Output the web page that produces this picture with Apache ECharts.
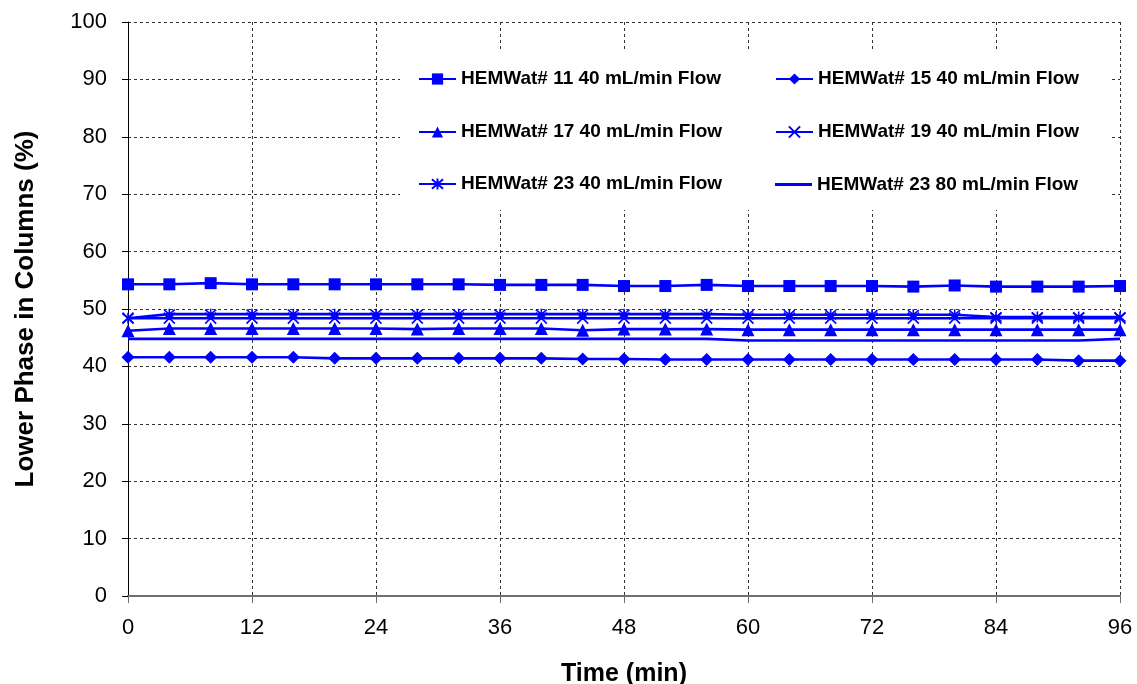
<!DOCTYPE html>
<html>
<head>
<meta charset="utf-8">
<script src="https://cdn.jsdelivr.net/npm/echarts@6/dist/echarts.min.js"></script>
<style>
html,body{margin:0;padding:0;background:#fff;}
#chart{width:1137px;height:684px;}
</style>
</head>
<body>
<div id="chart"></div>
<script>
const times = [0,4,8,12,16,20,24,28,32,36,40,44,48,52,56,60,64,68,72,76,80,84,88,92,96];
const hem11_40 = [54.3,54.3,54.5,54.3,54.3,54.3,54.3,54.3,54.3,54.2,54.2,54.2,54.0,54.0,54.2,54.0,54.0,54.0,54.0,53.9,54.1,53.9,53.9,53.9,54.0];
const hem15_40 = [41.6,41.6,41.6,41.6,41.6,41.4,41.4,41.4,41.4,41.4,41.4,41.3,41.3,41.2,41.2,41.2,41.2,41.2,41.2,41.2,41.2,41.2,41.2,41.0,41.0];
const hem17_40 = [46.2,46.6,46.6,46.6,46.6,46.6,46.6,46.5,46.6,46.6,46.6,46.3,46.5,46.5,46.5,46.4,46.4,46.4,46.4,46.4,46.4,46.4,46.4,46.4,46.4];
const hem19_40 = [48.4,48.4,48.4,48.4,48.4,48.4,48.4,48.4,48.4,48.4,48.4,48.4,48.4,48.4,48.4,48.4,48.4,48.4,48.4,48.4,48.4,48.4,48.4,48.4,48.4];
const hem23_40 = [48.4,49.1,49.1,49.1,49.1,49.1,49.1,49.1,49.1,49.1,49.1,49.1,49.1,49.1,49.1,49.0,49.0,49.0,49.0,49.0,49.0,48.6,48.6,48.6,48.6];
const hem23_80 = [44.8,44.8,44.8,44.8,44.8,44.8,44.8,44.8,44.8,44.8,44.8,44.8,44.8,44.8,44.8,44.5,44.5,44.5,44.5,44.5,44.5,44.5,44.5,44.5,44.8];
const seriesNames = ['HEMWat# 11 40 mL/min Flow','HEMWat# 15 40 mL/min Flow','HEMWat# 17 40 mL/min Flow','HEMWat# 19 40 mL/min Flow','HEMWat# 23 40 mL/min Flow','HEMWat# 23 80 mL/min Flow'];
const yTicks = [0,10,20,30,40,50,60,70,80,90,100];
const xTicks = [0,12,24,36,48,60,72,84,96];

const BLUE = '#0000ff';
const xPath = 'path://M0,0L10,10M10,0L0,10';
const starPath = 'path://M0,0L10,10M10,0L0,10M5,-1L5,11';

function pairs(vals){ return times.map((t,i)=>[t, vals[i]]); }

function mk(name, vals, symbol, size, stroke){
  return {
    name: name, type: 'line', data: pairs(vals),
    symbol: symbol, symbolSize: size, showSymbol: symbol !== 'none',
    lineStyle: {color: BLUE, width: 2.6},
    itemStyle: {color: stroke ? 'rgba(0,0,0,0)' : BLUE, borderColor: BLUE, borderWidth: stroke ? 1.6 : 0},
    emphasis: {disabled: true},
    animation: false, z: 3
  };
}

const FONT = 'Arial, "Liberation Sans", sans-serif';
const legendFont = {fontFamily: FONT, fontWeight: 'bold', fontSize: 19, color: '#000', lineHeight: 20};
const legendPos = [[418,69],[775,69],[418,122],[775,122],[418,174],[775,174]];
const legends = seriesNames.map((n,i)=>{
  const plain = (i === 5);
  return {
    data: plain ? [{name: n, icon: 'rect'}] : [n],
    left: legendPos[i][0], top: plain ? legendPos[i][1] + 1 : legendPos[i][1], padding: 0,
    itemWidth: 37, itemHeight: plain ? 3 : 14, itemGap: plain ? 6 : 5, selectedMode: false,
    textStyle: plain ? Object.assign({}, legendFont, {lineHeight: 18}) : legendFont, z: 6
  };
});

const chart = echarts.init(document.getElementById('chart'), null, {renderer: 'canvas'});
chart.setOption({
  backgroundColor: '#fff',
  animation: false,
  grid: {left: 128, right: 17, top: 22, bottom: 88, containLabel: false, outerBoundsMode: 'none'},
  graphic: [{type: 'rect', shape: {x: 400, y: 51, width: 710, height: 159}, style: {fill: '#fff'}, z: 1, silent: true}],
  legend: legends,
  xAxis: {
    type: 'value', min: 0, max: 96, interval: 12,
    name: 'Time (min)', nameLocation: 'middle', nameGap: 66,
    nameTextStyle: {fontFamily: FONT, fontWeight: 'bold', fontSize: 25, color: '#000'},
    axisLine: {lineStyle: {color: '#6e6e6e', width: 2}},
    axisTick: {show: true, inside: false, length: 7, lineStyle: {color: '#6e6e6e', width: 1}},
    axisLabel: {fontFamily: FONT, fontSize: 22, color: '#000', margin: 21,
      formatter: v => xTicks.includes(v) ? String(v) : ''},
    splitLine: {show: true, lineStyle: {color: '#333', type: [3,3], width: 1}}
  },
  yAxis: {
    type: 'value', min: 0, max: 100, interval: 10,
    name: 'Lower Phase in Columns (%)', nameLocation: 'middle', nameGap: 89, nameRotate: 90,
    nameTextStyle: {fontFamily: FONT, fontWeight: 'bold', fontSize: 26, color: '#000'},
    axisLine: {show: true, lineStyle: {color: '#000', width: 1}},
    axisTick: {show: true, inside: false, length: 6, lineStyle: {color: '#000'}},
    axisLabel: {fontFamily: FONT, fontSize: 22, color: '#000', margin: 21,
      formatter: v => yTicks.includes(v) ? String(v) : ''},
    splitLine: {show: true, lineStyle: {color: '#333', type: [3,3], width: 1}}
  },
  series: [
    mk(seriesNames[0], hem11_40, 'rect', 12, false),
    mk(seriesNames[1], hem15_40, 'diamond', 13, false),
    mk(seriesNames[2], hem17_40, 'triangle', 13, false),
    mk(seriesNames[3], hem19_40, xPath, 11, true),
    mk(seriesNames[4], hem23_40, starPath, 11, true),
    mk(seriesNames[5], hem23_80, 'none', 0, false)
  ]
});
</script>
</body>
</html>
